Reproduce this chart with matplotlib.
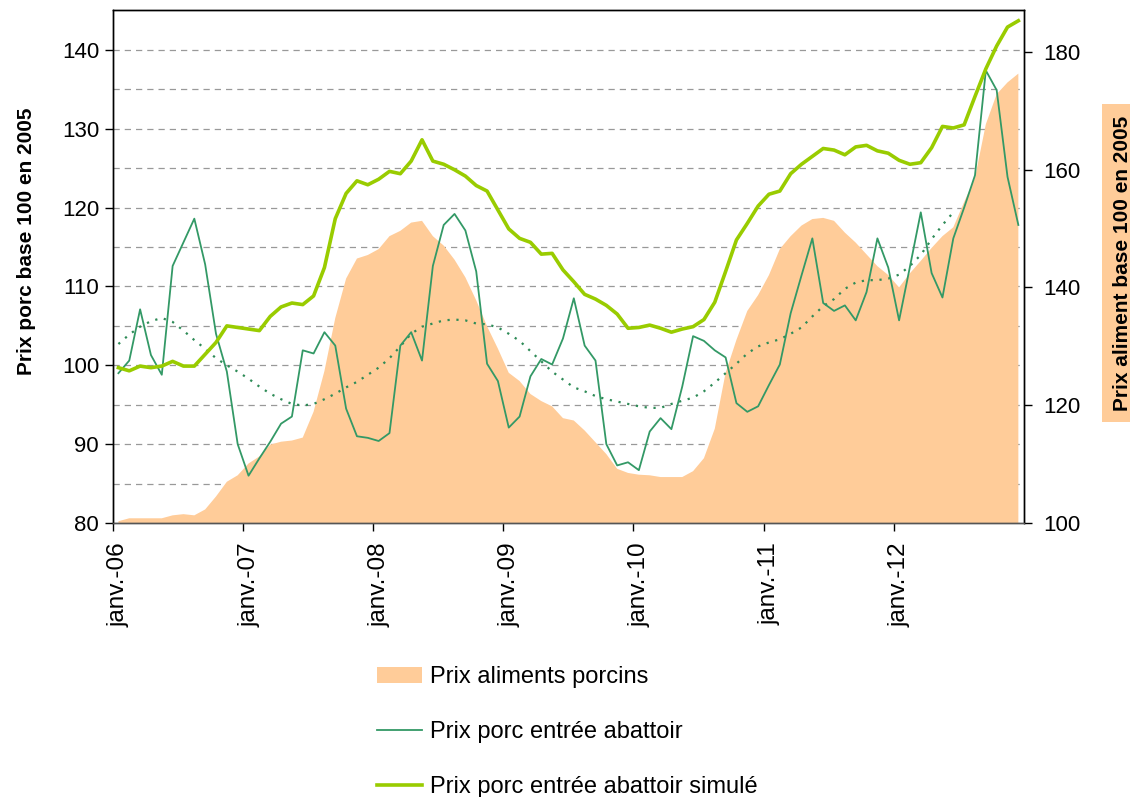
import numpy as np
import matplotlib
matplotlib.use("Agg")
import matplotlib.pyplot as plt
import matplotlib.transforms as mtransforms
from matplotlib.ticker import MultipleLocator, FixedLocator

plt.rcParams['font.family'] = ['Liberation Sans', 'DejaVu Sans']

# --- data (monthly, janv.-06 .. déc.-12) ---
prix_aliments = [100.3, 100.8, 100.8, 100.8, 100.8, 101.3, 101.5, 101.3, 102.3, 104.5,
                 107.0, 108.1, 110.1, 111.3, 113.3, 113.8, 114.0, 114.5, 118.9, 125.8,
                 134.8, 141.5, 144.9, 145.5, 146.5, 148.7, 149.6, 151.0, 151.3, 148.7,
                 147.1, 144.7, 141.7, 137.8, 133.4, 129.6, 125.5, 124.1, 121.9, 120.7,
                 119.8, 117.8, 117.4, 115.7, 113.7, 111.7, 109.2, 108.5, 108.2, 108.1,
                 107.8, 107.8, 107.8, 108.8, 111.0, 116.0, 125.5, 131.1, 136.0, 138.7,
                 142.1, 146.5, 148.7, 150.5, 151.6, 151.8, 151.3, 149.3, 147.6, 145.6,
                 143.6, 142.1, 140.0, 142.4, 144.5, 146.7, 148.7, 150.2, 154.5, 158.6,
                 167.7, 172.8, 174.8, 176.3]

prix_porc = [99.0, 100.6, 107.1, 101.3, 98.8, 112.6, 115.6, 118.6, 112.8, 104.0,
             99.2, 90.0, 86.0, 88.2, 90.3, 92.6, 93.5, 101.9, 101.5, 104.2,
             102.5, 94.5, 91.0, 90.8, 90.4, 91.4, 102.5, 104.2, 100.6, 112.6,
             117.8, 119.2, 117.1, 111.9, 100.2, 98.0, 92.1, 93.5, 98.6, 100.8,
             100.1, 103.4, 108.5, 102.5, 100.6, 90.0, 87.3, 87.7, 86.7, 91.6,
             93.3, 91.9, 97.3, 103.7, 103.1, 101.9, 101.0, 95.2, 94.1, 94.8,
             97.5, 100.1, 106.6, 111.4, 116.1, 107.9, 106.9, 107.6, 105.7, 109.3,
             116.1, 112.4, 105.7, 112.5, 119.4, 111.7, 108.6, 116.1, 120.0, 124.1,
             137.4, 134.9, 123.9, 117.8]

prix_porc_simule = [99.7, 99.3, 99.9, 99.7, 99.9, 100.5, 99.9, 99.9, 101.4, 102.9,
                    105.0, 104.8, 104.6, 104.4, 106.2, 107.4, 107.9, 107.7, 108.8, 112.4,
                    118.6, 121.8, 123.4, 122.9, 123.6, 124.6, 124.3, 125.9, 128.6, 125.9,
                    125.5, 124.8, 124.0, 122.8, 122.1, 119.7, 117.3, 116.1, 115.6, 114.1,
                    114.2, 112.1, 110.6, 109.0, 108.4, 107.6, 106.5, 104.7, 104.8, 105.1,
                    104.7, 104.2, 104.6, 104.9, 105.8, 108.0, 111.9, 115.9, 118.0, 120.2,
                    121.7, 122.1, 124.3, 125.5, 126.5, 127.5, 127.3, 126.7, 127.7, 127.9,
                    127.2, 126.9, 126.0, 125.5, 125.7, 127.6, 130.3, 130.1, 130.5, 134.1,
                    137.6, 140.5, 142.9, 143.7]

tendance_porc = [102.7, 103.9, 104.9, 105.6, 106.0, 105.5, 104.4, 103.2, 102.1, 100.9,
                 100.0, 99.2, 98.3, 97.3, 96.4, 95.7, 95.1, 94.9, 95.1, 95.7,
                 96.4, 97.2, 97.9, 98.8, 99.7, 100.9, 102.4, 104.0, 104.9, 105.3,
                 105.7, 105.8, 105.7, 105.3, 105.2, 104.8, 104.0, 103.1, 101.8, 100.5,
                 99.2, 98.2, 97.2, 96.7, 96.1, 95.7, 95.4, 95.1, 94.8, 94.6,
                 94.6, 95.1, 95.5, 95.9, 96.7, 97.8, 99.0, 100.2, 101.5, 102.4,
                 102.9, 103.3, 104.0, 104.8, 106.2, 107.5, 108.4, 109.7, 110.5, 110.8,
                 110.8, 111.0, 111.5, 112.6, 114.0, 116.0, 117.8, 119.4]

year_labels = ['janv.-06', 'janv.-07', 'janv.-08', 'janv.-09', 'janv.-10', 'janv.-11', 'janv.-12']

months = np.arange(len(prix_porc))

fig = plt.figure(figsize=(11.3, 7.97), dpi=100)
ax = fig.add_axes([0.1, 0.3438, 0.806, 0.6437])
ax2 = ax.twinx()

ax.set_xlim(-0.5, len(months) - 0.5)
ax.set_ylim(80, 145.07)
ax2.set_ylim(100, 187.1)

# area drawn in ax so that it sits above the gridlines but below the lines
area = ax.fill_between(months, 100, prix_aliments, transform=ax2.transData,
                       facecolor='#FFCC99', edgecolor='none', zorder=1,
                       label='Prix aliments porcins')
ax.plot(months[:len(tendance_porc)], tendance_porc, color='#2E8B57', lw=1.6,
        linestyle=(0, (1, 3)), zorder=2)
l1, = ax.plot(months, prix_porc, color='#339966', lw=1.3, zorder=3,
              label='Prix porc entrée abattoir')
l2, = ax.plot(months, prix_porc_simule, color='#99CC00', lw=2.6, zorder=4,
              label='Prix porc entrée abattoir simulé')

# grid every 5 on the left scale (85 .. 140)
ax.yaxis.set_major_locator(MultipleLocator(10))
ax.yaxis.set_minor_locator(FixedLocator(list(range(85, 141, 5))))
ax.set_axisbelow(True)
ax.grid(axis='y', which='both', color='#999999', linestyle=(0, (5, 4)), lw=0.9)
ax.tick_params(axis='y', which='minor', length=0)
ax.tick_params(axis='y', which='major', labelsize=16, length=6, width=1, pad=4)
ax.set_ylabel('Prix porc base 100 en 2005', fontsize=15, fontweight='bold')
ax.yaxis.set_label_coords(-0.085, 0.55)

ax2.set_yticks([100, 120, 140, 160, 180])
ax2.tick_params(axis='y', labelsize=16, length=6, width=1, pad=8)

ax.xaxis.set_major_locator(FixedLocator([-0.5 + 12 * k for k in range(len(year_labels))]))
ax.set_xticklabels(year_labels, rotation=90, fontsize=17.5)
ax.tick_params(axis='x', length=6, width=1, pad=8)
offset = mtransforms.ScaledTranslation(0.06, 0, fig.dpi_scale_trans)
for lbl in ax.get_xticklabels():
    lbl.set_transform(lbl.get_transform() + offset)

for a in (ax, ax2):
    for s in a.spines.values():
        s.set_color('black')
        s.set_linewidth(1)
ax2.spines['bottom'].set_color('#555555')
ax.spines['bottom'].set_color('#555555')

fig.text(0.9935, 0.670, 'Prix aliment base 100 en 2005', rotation=90,
         ha='center', va='center', fontsize=15, fontweight='bold',
         bbox=dict(facecolor='#FFCC99', edgecolor='none', pad=8))

fig.legend(handles=[area, l1, l2], loc='upper left', bbox_to_anchor=(0.325, 0.176),
           frameon=False, fontsize=17, handlelength=1.9, handleheight=0.7,
           handletextpad=0.35, labelspacing=1.4, borderaxespad=0)

fig.savefig('out.png', dpi=100)
